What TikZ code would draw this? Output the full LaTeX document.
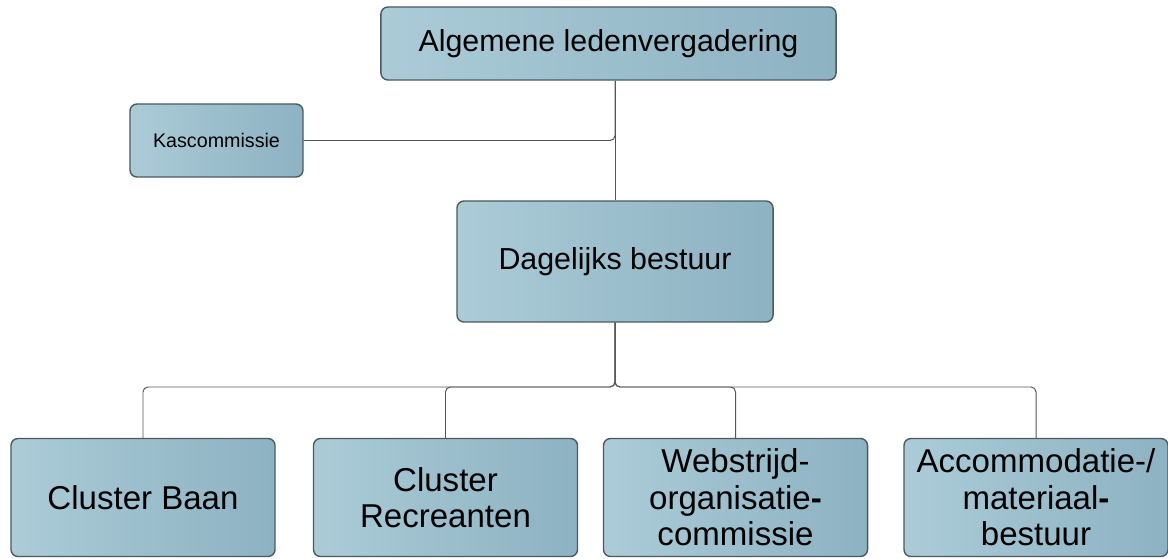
\documentclass[tikz,border=0pt]{standalone}
\usepackage{fontspec}
\setmainfont{Liberation Sans}
\usetikzlibrary{positioning}

\definecolor{boxleft}{HTML}{ABCBD7}
\definecolor{boxright}{HTML}{8DB2C2}
\definecolor{boxline}{HTML}{4C5A60}
\definecolor{linkline}{HTML}{555555}

\begin{document}
\begin{tikzpicture}[
    x=0.025cm, y=-0.025cm,
    orgbox/.style={rectangle, draw=boxline, line width=1pt, rounded corners=5pt, left color=boxleft, right color=boxright, align=center, inner sep=2pt},
    topbox/.style={orgbox, minimum width=11.375cm, minimum height=1.825cm, font=\fontsize{21.6}{26}\selectfont},
    sidebox/.style={orgbox, minimum width=4.325cm, minimum height=1.825cm, font=\fontsize{14}{17}\selectfont},
    midbox/.style={orgbox, minimum width=7.9cm, minimum height=3.025cm, font=\fontsize{21.6}{26}\selectfont},
    unitbox/.style={orgbox, minimum width=6.6cm, minimum height=2.95cm, font=\fontsize{23.5}{26}\selectfont},
    link/.style={draw=linkline, line width=0.7pt, rounded corners=3.5pt}
]
\useasboundingbox (0,0) rectangle (1168,558);

% Top row - general meeting and audit committee
\node[topbox] (alv) at (608.5,43.5) {Algemene ledenvergadering};
\node[sidebox] (kas) at (216.5,140.5) {Kascommissie};

% Middle row - daily board
\node[midbox] (db) at (615,261.5) {Dagelijks bestuur};

% Bottom row - clusters and committees
\node[unitbox] (baan) at (143,497.5) {Cluster Baan};
\node[unitbox] (recr) at (445.5,497.5) {Cluster\\Recreanten};
\node[unitbox] (wedstr) at (735.5,497.5) {Webstrijd-\\organisatie\textbf{-}\\commissie};
\node[unitbox] (accom) at (1036,497.5) {Accommodatie-/\\materiaal\textbf{-}\\bestuur};

% Connectors
\coordinate (split) at (615,387);
\draw[link] (alv.south -| db.north) -- (db.north);
\draw[link] (kas.east) -| (alv.south -| db.north);
\draw[link] (db.south) -- (split) -| (baan.north);
\draw[link] (db.south) -- (split) -| (recr.north);
\draw[link] (db.south) -- (split) -| (wedstr.north);
\draw[link] (db.south) -- (split) -| (accom.north);

\end{tikzpicture}
\end{document}
